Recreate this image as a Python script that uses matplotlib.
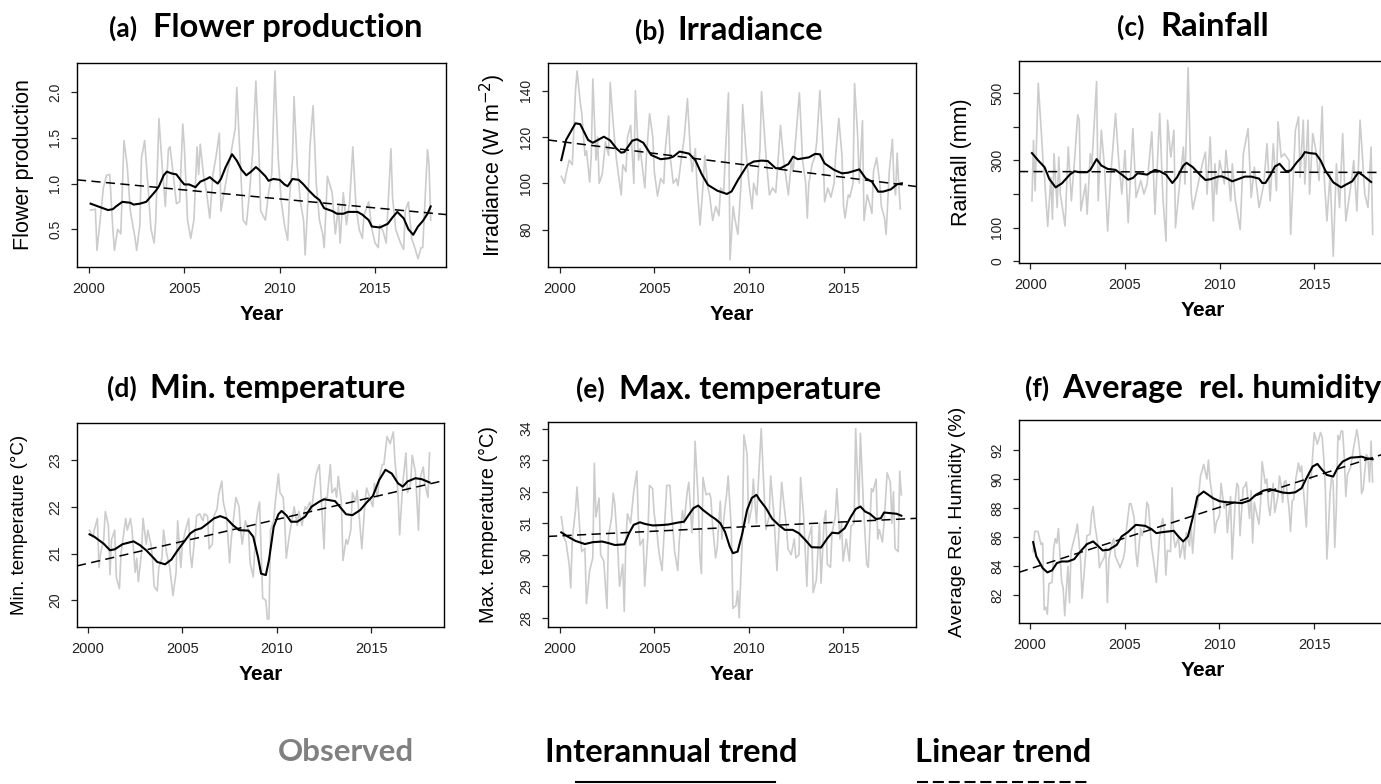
import numpy as np
import matplotlib
matplotlib.use("Agg")
import matplotlib.pyplot as plt
from matplotlib.lines import Line2D

plt.rcParams['font.family'] = ['Liberation Sans', 'DejaVu Sans']
TITLE_FONT = ['Lato', 'DejaVu Sans']

# months are counted from January 2000 (month 12 = 2001.0)

# (a) flower production
a_obs_m = [1, 4, 5, 7, 9, 11, 13, 15, 16, 18, 20, 22, 24, 26, 29, 30, 32, 33, 35, 37,
           39, 41, 42, 44, 46, 48, 50, 51, 53, 55, 57, 59, 60, 62, 64, 66, 68, 69, 70, 72,
           74, 76, 78, 80, 82, 83, 85, 87, 90, 92, 93, 95, 97, 99, 101, 103, 105, 107, 108, 111,
           113, 115, 117, 119, 121, 123, 125, 126, 128, 129, 131, 133, 135, 136, 138, 139, 141, 143, 145, 147,
           148, 150, 153, 155, 157, 158, 160, 162, 164, 166, 168, 170, 172, 173, 176, 178, 180, 182, 183, 185,
           187, 190, 191, 193, 196, 198, 199, 201, 203, 205, 207, 209, 210, 213, 214, 215]
a_obs = [0.71, 0.72, 0.27, 0.6, 0.95, 1.09, 1.1, 0.5, 0.27, 0.5, 0.45, 1.47, 1.2, 0.7, 0.4, 0.27, 0.55, 1.28, 1.47, 1.0,
         0.5, 0.35, 0.6, 1.71, 1.2, 0.75, 1.38, 1.4, 1.1, 0.78, 0.8, 1.65, 1.4, 0.6, 0.4, 0.6, 1.4, 1.1, 1.43, 1.1,
         0.9, 0.62, 1.1, 1.3, 1.55, 0.7, 0.9, 1.1, 1.4, 1.6, 2.05, 1.3, 0.6, 0.55, 0.9, 1.35, 2.12, 1.3, 0.7, 0.6,
         0.9, 1.1, 2.23, 1.3, 0.8, 0.55, 0.38, 0.8, 1.25, 1.95, 1.2, 0.8, 0.6, 0.22, 0.9, 1.4, 1.85, 1.0, 0.6, 0.45,
         0.3, 1.08, 0.9, 0.45, 0.75, 0.35, 0.9, 0.55, 0.8, 1.4, 0.75, 0.5, 0.4, 0.65, 0.8, 0.5, 0.35, 0.3, 0.55, 0.48,
         0.35, 1.38, 0.85, 0.5, 0.35, 0.28, 0.7, 0.8, 0.4, 0.3, 0.18, 0.3, 0.3, 1.37, 1.2, 0.6]
a_trend_m = [1, 12, 15, 17, 21, 26, 28, 32, 36, 39, 42, 44, 47, 49, 52, 55, 58, 60, 63, 67,
             70, 74, 76, 78, 81, 83, 86, 90, 93, 96, 99, 102, 105, 107, 111, 113, 116, 120, 123, 125,
             128, 132, 135, 138, 142, 145, 148, 153, 156, 160, 163, 169, 172, 176, 178, 183, 188, 191, 194, 198,
             201, 204, 207, 210, 213, 215]
a_trend = [0.78, 0.71, 0.72, 0.75, 0.80, 0.79, 0.77, 0.78, 0.80, 0.86, 0.92, 0.97, 1.09, 1.13, 1.11, 1.10, 1.03, 0.99, 0.99, 0.96,
           1.02, 1.05, 1.07, 1.04, 1.00, 1.05, 1.18, 1.32, 1.25, 1.15, 1.09, 1.13, 1.18, 1.15, 1.08, 1.03, 1.05, 1.04, 0.99, 0.97,
           1.05, 1.04, 0.99, 0.93, 0.86, 0.82, 0.73, 0.70, 0.67, 0.67, 0.69, 0.69, 0.66, 0.60, 0.53, 0.52, 0.56, 0.63, 0.69, 0.62,
           0.50, 0.44, 0.53, 0.59, 0.67, 0.75]
a_linear = [1.028, 0.675]  # fitted value in 2000 and 2018

# (b) irradiance
b_obs_m = [1, 3, 4, 6, 8, 10, 11, 13, 14, 16, 17, 19, 20, 21, 23, 24, 25, 27, 29, 31,
           32, 34, 36, 37, 39, 40, 42, 43, 45, 47, 48, 50, 51, 54, 55, 57, 59, 60, 62, 64,
           66, 67, 69, 70, 72, 74, 75, 77, 79, 81, 83, 84, 86, 87, 89, 91, 92, 94, 95, 97,
           99, 101, 102, 104, 105, 107, 108, 110, 111, 113, 115, 116, 118, 120, 122, 123, 125, 127, 128, 130,
           131, 133, 135, 137, 138, 140, 142, 144, 145, 147, 148, 150, 152, 154, 156, 157, 158, 160, 162, 163,
           165, 167, 168, 170, 172, 174, 175, 177, 179, 180, 181, 183, 184, 186, 187, 189, 190, 192, 193, 195,
           197, 198, 199, 201, 203, 204, 206, 207, 209, 211, 212, 213, 214, 215, 216]
b_obs = [103, 100, 104, 110, 108, 140, 148.5, 135, 130, 112, 114, 100.5, 112, 145, 110, 120, 100, 104, 118, 112,
         143.5, 125, 110, 105, 95, 108, 105, 120, 125, 100, 140, 110, 115, 98, 112, 130, 120, 105, 94.5, 102,
         100, 115, 129, 112, 100, 102, 99, 110, 120, 136.5, 112, 105, 115, 100, 82, 100, 112, 98, 95, 84,
         90, 86, 98, 96, 112, 139, 67, 90, 85, 78, 100, 134, 115, 100, 89, 100, 95, 115, 139.5, 120,
         110, 95, 98, 96, 105, 125, 110, 100, 95, 110, 105, 122, 139, 110, 100, 85, 100, 108, 112, 118,
         140, 115, 92, 98, 94, 100, 112, 128, 112, 90, 85, 95, 94, 100, 143, 120, 100, 127, 84, 95,
         90, 87, 105, 111, 100, 90, 85, 78, 105, 119, 100, 95, 113, 100, 89]
b_trend_m = [1, 4, 10, 13, 18, 21, 28, 32, 36, 39, 41, 46, 49, 53, 58, 64, 69, 72, 76, 82,
             86, 90, 94, 100, 106, 109, 113, 119, 123, 128, 132, 137, 140, 145, 148, 151, 158, 162, 165, 168,
             174, 179, 183, 190, 194, 198, 202, 205, 210, 214, 217]
b_trend = [110, 118.7, 125.9, 125.5, 118.7, 117.5, 120.1, 118.5, 115, 113.2, 113.5, 118.4, 119, 117.5, 112.2, 110.4, 110.8, 111.5, 113.7, 112.8,
           110, 104, 99.3, 96.8, 95.4, 96.5, 101.4, 107.9, 109.4, 109.8, 109.6, 106.5, 106.5, 108.3, 111.5, 110.4, 111.2, 112.7, 112.5, 108.6,
           105.8, 104.3, 104.6, 106, 102.2, 100.7, 96.4, 96.4, 97.4, 99.6, 100]
b_linear = [118.06, 99.5]

# (c) rainfall
c_obs_m = [1, 2, 3, 5, 7, 8, 9, 11, 13, 14, 15, 17, 18, 19, 20, 22, 24, 26, 28, 30,
           31, 32, 35, 36, 38, 39, 42, 43, 45, 47, 49, 51, 54, 56, 58, 60, 62, 65, 67, 70,
           72, 74, 77, 79, 82, 84, 86, 87, 89, 91, 92, 94, 97, 98, 100, 102, 103, 105, 109, 111,
           112, 114, 116, 117, 118, 120, 123, 124, 127, 128, 130, 133, 135, 138, 140, 142, 145, 148, 150, 152,
           154, 156, 157, 159, 161, 164, 165, 168, 170, 171, 173, 174, 176, 177, 179, 181, 183, 185, 186, 188,
           190, 192, 194, 196, 198, 200, 203, 205, 207, 209, 210, 212, 214, 216, 217]
c_obs = [180, 360, 210, 530, 380, 300, 250, 104, 250, 125, 320, 160, 310, 200, 170, 105, 340, 180, 300, 436,
         420, 150, 230, 140, 320, 290, 535, 180, 390, 280, 90, 260, 440, 300, 200, 330, 115, 395, 190, 240,
         200, 230, 385, 140, 440, 190, 60, 420, 310, 390, 100, 200, 340, 230, 576, 200, 155, 200, 290, 325,
         200, 370, 120, 290, 200, 300, 230, 330, 180, 290, 180, 95, 320, 395, 190, 280, 160, 230, 350, 180,
         350, 210, 415, 310, 320, 300, 80, 390, 430, 250, 420, 230, 420, 200, 380, 330, 240, 460, 270, 120,
         260, 15, 290, 160, 380, 120, 220, 300, 150, 420, 350, 200, 160, 340, 80]
c_trend_m = [1, 5, 9, 12, 16, 20, 25, 28, 31, 36, 38, 42, 45, 49, 54, 58, 62, 65, 68, 74,
             79, 82, 86, 90, 93, 97, 99, 103, 108, 111, 114, 119, 121, 124, 128, 132, 136, 140, 145, 147,
             149, 152, 155, 158, 162, 165, 169, 172, 174, 177, 181, 184, 187, 192, 197, 200, 204, 208, 211, 216]
c_trend = [322, 300, 280, 245, 220, 232, 258, 268, 265, 265, 272, 304, 285, 275, 272, 258, 243, 248, 262, 258,
           272, 268, 258, 233, 250, 285, 293, 280, 255, 242, 244, 252, 253, 248, 238, 245, 252, 252, 246, 233,
           233, 255, 282, 290, 268, 270, 295, 310, 325, 322, 320, 300, 270, 235, 220, 228, 238, 265, 255, 236]
c_linear = [267, 264.5]

# (d) minimum temperature
d_obs_m = [1, 3, 4, 6, 7, 8, 10, 11, 13, 14, 15, 17, 18, 20, 21, 23, 24, 25, 27, 28,
           30, 31, 32, 34, 35, 37, 38, 40, 41, 42, 44, 45, 47, 48, 50, 52, 54, 56, 57, 59,
           60, 62, 64, 65, 66, 68, 69, 71, 73, 74, 76, 77, 79, 80, 82, 83, 85, 86, 88, 90,
           91, 93, 94, 96, 97, 98, 100, 102, 103, 105, 107, 108, 109, 111, 113, 114, 115, 116, 118, 119,
           121, 122, 124, 125, 126, 128, 130, 131, 133, 134, 136, 138, 139, 141, 142, 143, 145, 147, 148, 150,
           151, 152, 154, 155, 157, 158, 159, 161, 162, 164, 165, 167, 168, 170, 171, 173, 174, 176, 177, 179,
           181, 182, 184, 185, 187, 188, 190, 192, 194, 195, 197, 198, 200, 202, 203, 205, 206, 208, 210, 211,
           213, 214, 216, 217]
d_obs = [21.5, 21.35, 21.5, 21.75, 20.7, 21.0, 21.3, 21.9, 21.6, 20.55, 21.3, 21.5, 20.5, 20.25, 21.0, 21.5, 21.75, 21.5, 21.75, 21.5,
         20.6, 20.9, 20.4, 21.0, 21.75, 21.2, 21.5, 21.2, 20.9, 20.3, 20.2, 20.7, 20.9, 21.5, 21.0, 20.7, 20.1, 20.6, 21.7, 20.7,
         21.2, 21.5, 21.75, 21.0, 20.7, 21.4, 21.8, 21.85, 21.7, 21.85, 21.8, 21.1, 21.2, 21.8, 21.95, 22.25, 22.55, 22.1, 21.8, 20.8,
         21.3, 21.9, 22.2, 22.0, 21.5, 21.2, 21.7, 21.5, 20.8, 20.5, 21.7, 21.95, 22.1, 20.05, 20.0, 19.6, 19.6, 21.5, 21.7, 22.1,
         22.7, 22.3, 22.2, 21.7, 20.9, 21.4, 21.8, 22.0, 21.6, 21.9, 21.6, 22.0, 21.95, 22.1, 21.9, 22.2, 22.7, 22.9, 22.3, 21.1,
         22.2, 22.2, 22.9, 22.3, 22.4, 22.2, 22.65, 22.1, 20.85, 21.3, 21.2, 21.5, 22.3, 22.1, 22.35, 21.5, 21.1, 22.1, 22.4, 22.2,
         22.0, 22.5, 22.2, 22.6, 22.9, 22.9, 23.5, 23.35, 23.6, 23.0, 22.3, 21.4, 22.5, 23.15, 22.3, 22.5, 23.1, 22.75, 21.5, 22.6,
         22.85, 22.5, 22.2, 23.15]
d_trend_m = [1, 4, 10, 14, 17, 22, 29, 33, 37, 41, 44, 49, 53, 57, 61, 65, 68, 72, 76, 80,
             84, 88, 92, 96, 102, 105, 108, 110, 113, 115, 118, 121, 123, 126, 129, 133, 138, 142, 147, 150,
             157, 160, 164, 168, 173, 177, 181, 185, 189, 193, 197, 200, 203, 208, 212, 217]
d_trend = [21.41, 21.36, 21.21, 21.07, 21.09, 21.2, 21.26, 21.18, 21.07, 20.93, 20.82, 20.77, 20.87, 21.07, 21.25, 21.43, 21.5, 21.54, 21.64, 21.75,
           21.8, 21.75, 21.61, 21.5, 21.49, 21.36, 20.93, 20.57, 20.54, 20.86, 21.57, 21.84, 21.91, 21.82, 21.68, 21.68, 21.79, 22.0, 22.11, 22.16,
           22.12, 22.0, 21.84, 21.82, 21.93, 22.09, 22.23, 22.57, 22.79, 22.71, 22.5, 22.43, 22.54, 22.61, 22.59, 22.52]
d_linear = [20.79, 22.48]

# (e) maximum temperature
e_obs_m = [1, 3, 4, 6, 7, 8, 10, 11, 13, 14, 16, 17, 19, 21, 22, 23, 25, 26, 28, 30,
           31, 33, 34, 35, 37, 38, 40, 41, 42, 43, 45, 46, 47, 49, 50, 51, 53, 54, 56, 57,
           59, 60, 62, 63, 65, 66, 68, 70, 71, 73, 75, 76, 78, 79, 81, 82, 84, 85, 86, 88,
           89, 90, 91, 93, 95, 96, 97, 99, 100, 102, 103, 105, 106, 107, 109, 110, 112, 113, 114, 116,
           117, 119, 120, 122, 123, 125, 126, 128, 130, 131, 133, 134, 136, 138, 139, 141, 142, 144, 145, 147,
           149, 150, 152, 153, 155, 157, 158, 160, 161, 163, 165, 166, 168, 169, 170, 172, 173, 175, 176, 178,
           179, 180, 182, 184, 185, 187, 188, 189, 190, 191, 193, 195, 196, 198, 199, 201, 202, 203, 205, 206,
           208, 210, 211, 212, 213, 215, 216, 217]
e_obs = [31.2, 30.5, 30.4, 29.7, 28.95, 30.5, 31.4, 32.15, 30.6, 30.1, 30.2, 28.45, 29.5, 29.9, 32.9, 31.2, 31.8, 30.0, 29.8, 28.3,
         30.6, 31.2, 31.95, 31.6, 30.1, 29.0, 29.7, 28.2, 30.4, 31.3, 31.0, 31.5, 32.0, 32.65, 31.0, 30.3, 30.5, 29.0, 30.6, 32.2,
         32.1, 31.3, 30.6, 30.1, 29.5, 30.4, 32.2, 32.2, 31.4, 30.1, 29.5, 30.5, 31.4, 31.0, 32.0, 32.3, 30.7, 31.5, 33.6, 31.7,
         30.0, 29.4, 32.45, 31.9, 31.95, 31.8, 31.0, 29.9, 30.2, 31.7, 30.5, 31.5, 31.9, 32.5, 30.8, 28.3, 28.4, 28.85, 28.0, 30.5,
         33.8, 33.2, 31.0, 31.5, 32.4, 31.0, 32.1, 34.0, 31.8, 30.8, 31.2, 32.5, 31.3, 29.5, 30.5, 32.3, 31.8, 30.9, 30.2, 30.0,
         30.5, 29.9, 30.0, 32.45, 31.2, 29.0, 30.5, 30.9, 28.8, 29.2, 31.0, 29.1, 31.1, 31.4, 29.7, 29.6, 30.7, 31.2, 32.1, 30.5,
         31.0, 29.8, 30.5, 29.8, 30.9, 31.0, 34.0, 32.7, 31.5, 33.85, 31.5, 29.7, 29.6, 32.1, 32.0, 32.4, 30.5, 30.8, 30.4, 31.0,
         32.6, 32.3, 31.0, 32.0, 30.2, 30.1, 32.65, 31.9]
e_trend_m = [1, 5, 10, 16, 21, 27, 31, 35, 41, 44, 47, 51, 54, 59, 64, 69, 75, 79, 82, 85,
             88, 91, 96, 99, 102, 105, 108, 110, 113, 116, 119, 122, 125, 127, 131, 135, 139, 143, 148, 152,
             156, 160, 166, 170, 173, 177, 181, 185, 188, 191, 194, 197, 201, 204, 206, 210, 214, 217]
e_trend = [30.71, 30.58, 30.44, 30.34, 30.4, 30.42, 30.37, 30.31, 30.33, 30.68, 30.95, 31.03, 30.98, 30.93, 30.94, 30.96, 31.02, 31.05, 31.27, 31.48,
           31.56, 31.42, 31.23, 31.13, 31.0, 30.73, 30.26, 30.05, 30.1, 30.68, 31.42, 31.8, 31.9, 31.74, 31.48, 31.14, 30.95, 30.79, 30.79, 30.68,
           30.47, 30.24, 30.23, 30.52, 30.7, 30.68, 30.84, 31.21, 31.45, 31.53, 31.37, 31.3, 31.13, 31.16, 31.34, 31.32, 31.3, 31.24]
e_linear = [30.60, 31.13]

# (f) average relative humidity
f_obs_m = [2, 3, 5, 7, 8, 9, 10, 11, 12, 14, 15, 16, 17, 18, 20, 21, 22, 24, 25, 26,
           28, 29, 30, 32, 33, 35, 36, 38, 39, 40, 41, 43, 44, 45, 47, 48, 49, 50, 52, 53,
           54, 56, 57, 59, 60, 61, 63, 64, 66, 67, 68, 70, 71, 73, 74, 75, 77, 78, 80, 81,
           82, 84, 85, 86, 87, 89, 90, 91, 92, 94, 95, 97, 98, 99, 101, 102, 103, 105, 106, 108,
           109, 110, 112, 113, 114, 116, 117, 118, 120, 121, 123, 124, 125, 127, 128, 130, 131, 132, 133, 135,
           136, 137, 139, 140, 141, 142, 143, 145, 146, 147, 149, 150, 151, 152, 154, 155, 157, 158, 159, 160,
           161, 162, 164, 165, 166, 167, 168, 170, 171, 172, 173, 175, 176, 177, 178, 180, 181, 182, 184, 185,
           186, 187, 188, 189, 190, 191, 192, 193, 194, 195, 196, 197, 198, 199, 200, 201, 203, 204, 205, 207,
           208, 209, 210, 211, 213, 214, 215, 216, 217]
f_obs = [85.0, 86.4, 86.4, 85.5, 85.6, 81.0, 81.2, 80.7, 82.8, 82.9, 85.2, 85.9, 85.6, 86.6, 83.0, 82.5, 80.6, 84.0, 81.5, 85.0,
         85.9, 86.3, 86.9, 84.5, 81.8, 84.5, 86.1, 86.2, 87.6, 88.1, 86.9, 85.5, 83.9, 84.2, 84.6, 85.3, 81.5, 84.5, 85.6, 85.9,
         84.7, 84.2, 83.9, 84.5, 85.0, 86.5, 88.3, 88.3, 87.3, 85.0, 84.0, 86.6, 86.1, 86.9, 88.4, 88.2, 85.3, 84.6, 82.9, 84.5,
         86.0, 87.3, 86.6, 83.4, 85.1, 85.0, 89.4, 86.0, 85.3, 86.0, 84.6, 85.7, 84.5, 86.3, 85.4, 86.9, 84.9, 88.0, 88.1, 90.2,
         90.6, 91.0, 90.0, 91.3, 89.9, 88.4, 86.3, 87.0, 87.5, 89.7, 88.0, 88.5, 86.3, 88.8, 84.5, 88.5, 89.7, 89.5, 86.1, 89.4,
         89.5, 89.8, 87.3, 89.2, 85.6, 88.4, 87.9, 86.9, 88.3, 91.2, 89.7, 90.0, 88.2, 87.5, 89.7, 87.7, 88.8, 90.2, 89.6, 88.4,
         89.8, 89.9, 88.0, 86.4, 88.5, 88.6, 89.8, 91.1, 90.5, 90.9, 89.5, 86.7, 89.8, 90.3, 90.0, 93.2, 92.8, 92.4, 93.2, 92.9,
         91.5, 89.5, 84.5, 86.5, 89.0, 90.1, 89.8, 85.3, 88.0, 93.0, 92.7, 93.3, 93.3, 91.5, 88.8, 90.3, 90.8, 91.5, 92.2, 93.4,
         92.7, 91.7, 89.0, 89.3, 91.7, 91.5, 89.8, 92.6, 89.8]
f_trend_m = [2, 4, 8, 11, 14, 17, 20, 24, 28, 31, 36, 40, 43, 46, 50, 55, 58, 62, 67, 73,
             77, 80, 84, 91, 94, 97, 100, 103, 106, 110, 113, 116, 120, 124, 130, 134, 139, 143, 148, 152,
             156, 160, 164, 168, 172, 175, 179, 182, 185, 188, 192, 195, 198, 203, 207, 210, 213, 217]
f_trend = [85.66, 84.68, 83.88, 83.58, 83.72, 84.22, 84.33, 84.33, 84.49, 84.9, 85.52, 85.71, 85.41, 85.09, 85.14, 85.48, 86.05, 86.35, 86.85, 86.78,
           86.55, 86.28, 86.35, 86.44, 86.05, 85.71, 86.05, 87.31, 88.8, 89.14, 88.91, 88.68, 88.48, 88.41, 88.38, 88.34, 88.52, 88.91, 89.21, 89.3,
           89.19, 89.07, 89.03, 89.09, 89.37, 90.05, 90.86, 91.04, 90.63, 90.28, 90.17, 90.81, 91.2, 91.47, 91.5, 91.54, 91.43, 91.36]
f_linear = [83.83, 91.44]

year_ticks = [2000, 2005, 2010, 2015]

W, H = 1381, 784
fig = plt.figure(figsize=(W / 100, H / 100), dpi=100)


def to_year(m):
    return 2000 + np.asarray(m, dtype=float) / 12.0


def panel(box, obs_m, obs, tr_m, tr, lin, xlim, ylim, yticks, ylabels,
          ylab, ylab_size, ylab_x, tag, title, tag_right, title_left, title_y):
    x0, y0, x1, y1 = box
    ax = fig.add_axes([x0 / W, 1 - y1 / H, (x1 - x0) / W, (y1 - y0) / H])
    ax.plot(to_year(obs_m), obs, color='#cccccc', lw=1.2)
    ax.plot(to_year(tr_m), tr, color='black', lw=1.5)
    ax.axline((2000, lin[0]), (2018, lin[1]), color='black', lw=1.1, ls=(0, (6, 3.5)))
    ax.set_xlim(*xlim)
    ax.set_ylim(*ylim)
    ax.set_xticks(year_ticks)
    ax.set_yticks(yticks)
    ax.set_yticklabels(ylabels)
    ax.tick_params(direction='out', length=4.5, width=0.9, pad=6, colors='#222222')
    ax.tick_params(axis='x', labelsize=10.5)
    ax.tick_params(axis='y', labelsize=10, labelrotation=90)
    for t in ax.get_yticklabels():
        t.set_va('center')
    for s in ax.spines.values():
        s.set_linewidth(1.0)
    ax.set_ylabel(ylab, fontsize=ylab_size)
    ax.yaxis.set_label_coords(ylab_x, 0.5)
    ax.yaxis.label.set_va('center')
    ax.set_xlabel('Year', fontsize=15, fontweight='bold')
    ax.xaxis.set_label_coords(0.5, -48 / (y1 - y0))
    ax.xaxis.label.set_va('center')
    fig.text(tag_right / W, 1 - title_y / H, tag, ha='right', va='center',
             fontsize=19, fontweight='bold', family=TITLE_FONT)
    fig.text(title_left / W, 1 - title_y / H, title, ha='left', va='center',
             fontsize=23.6, fontweight='bold', family=TITLE_FONT)
    return ax


panel((77, 63, 446, 267), a_obs_m, a_obs, a_trend_m, a_trend, a_linear,
      (1999.37, 2018.72), (0.088, 2.317), [0.5, 1.0, 1.5, 2.0], ['0.5', '1.0', '1.5', '2.0'],
      'Flower production', 15.5, -0.144, '(a)', 'Flower production', 137, 153, 28)
panel((548, 63, 916, 267), b_obs_m, b_obs, b_trend_m, b_trend, b_linear,
      (1999.38, 2018.83), (63.9, 151.9), [80, 100, 120, 140], ['80', '100', '120', '140'],
      r'Irradiance (W m$^{-2}$)', 15.5, -0.150, '(b)', 'Irradiance', 665, 677, 31)
panel((1019, 61, 1387, 263), c_obs_m, c_obs, c_trend_m, c_trend, c_linear,
      (1999.4, 2018.84), (-5, 596), [0, 100, 200, 300, 400, 500], ['0', '100', '', '300', '', '500'],
      'Rainfall (mm)', 15.5, -0.156, '(c)', 'Rainfall', 1145, 1160, 27)
panel((77, 423, 444, 627), d_obs_m, d_obs, d_trend_m, d_trend, d_linear,
      (1999.42, 2018.85), (19.43, 23.79), [20, 21, 22, 23], ['20', '21', '22', '23'],
      'Min. temperature (°C)', 13.5, -0.156, '(d)', 'Min. temperature', 137, 150, 388)
panel((548, 422, 916, 627), e_obs_m, e_obs, e_trend_m, e_trend, e_linear,
      (1999.38, 2018.86), (27.71, 34.21), [28, 29, 30, 31, 32, 33, 34],
      ['28', '29', '30', '31', '32', '33', '34'],
      'Max. temperature (°C)', 14.3, -0.161, '(e)', 'Max. temperature', 605, 619, 389)
panel((1019, 420, 1387, 623), f_obs_m, f_obs, f_trend_m, f_trend, f_linear,
      (1999.42, 2018.84), (80.1, 94.06), [82, 84, 86, 88, 90, 92],
      ['82', '84', '86', '88', '90', '92'],
      'Average Rel. Humidity (%)', 14, -0.166, '(f)', 'Average  rel. humidity', 1049, 1062, 388)

# legend strip along the bottom
fig.text(346 / W, 1 - 752 / H, 'Observed', ha='center', va='center', fontsize=22.5,
         fontweight='bold', color='#808080', family=TITLE_FONT)
fig.text(671 / W, 1 - 752 / H, 'Interannual trend', ha='center', va='center', fontsize=23.5,
         fontweight='bold', color='black', family=TITLE_FONT)
fig.text(1003 / W, 1 - 752 / H, 'Linear trend', ha='center', va='center', fontsize=23.5,
         fontweight='bold', color='black', family=TITLE_FONT)
fig.add_artist(Line2D([576 / W, 775 / W], [1 - 782 / H, 1 - 782 / H], color='black', lw=1.5,
                      transform=fig.transFigure))
fig.add_artist(Line2D([917 / W, 1090 / W], [1 - 782 / H, 1 - 782 / H], color='black', lw=1.5,
                      ls=(0, (5.3, 2.3)), transform=fig.transFigure))

fig.savefig('out.png', dpi=100)
